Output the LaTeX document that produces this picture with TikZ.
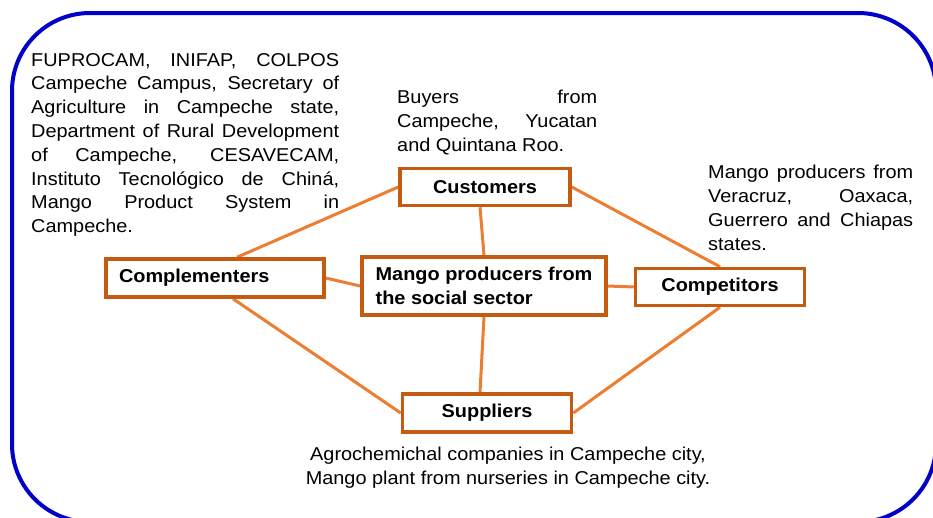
\documentclass[tikz,border=0pt]{standalone}
\usepackage{fontspec}
\setmainfont{Liberation Sans}[FakeStretch=1.07]
\usetikzlibrary{backgrounds}
\definecolor{boxline}{RGB}{197,90,17}
\definecolor{linkline}{RGB}{237,125,49}
\definecolor{frameblue}{RGB}{0,0,200}
\tikzset{
actor/.style={draw=boxline,line width=3.5pt,fill=white,inner sep=0pt,font=\bfseries\fontsize{18.6}{24.5}\selectfont},
link/.style={draw=linkline,line width=3pt},
note/.style={inner sep=0pt,align=justify,font=\fontsize{18.6}{23.8}\selectfont}
}
\begin{document}
\begin{tikzpicture}[x=1pt,y=-1pt]
\useasboundingbox(0,0)rectangle(933,517);
\clip(0,0)rectangle(933,517);
\draw[frameblue,line width=4pt,rounded corners=78pt](12,13)rectangle(936,522);
\node[actor,minimum width=170pt,minimum height=37pt](cust)at(485,187){Customers};
\node[actor,minimum width=244pt,minimum height=58pt,align=left](prod)at(484,286){Mango producers from\\the social sector};
\node[actor,minimum width=218pt,minimum height=38pt,text width=192pt,align=left](compl)at(215,278){Complementers};
\node[actor,minimum width=169pt,minimum height=37pt](comp)at(720,287){Competitors};
\node[actor,minimum width=169pt,minimum height=38pt](supp)at(487,413){Suppliers};
\node[note,text width=308pt,anchor=north west](complnote)at(31,53){\noindent FUPROCAM, INIFAP, COLPOS\linebreak
Campeche Campus, Secretary of\linebreak Agriculture in Campeche state,\linebreak
Department of Rural Development\linebreak of Campeche, CESAVECAM,\linebreak
Instituto Tecnológico de Chiná,\linebreak Mango Product System in\linebreak Campeche.};
\node[note,text width=200pt,anchor=north west](custnote)at(397,90){\noindent Buyers from\linebreak
Campeche, Yucatan\linebreak and Quintana Roo.};
\node[note,text width=205pt,anchor=north west](compnote)at(708,165){\noindent Mango producers from\linebreak
Veracruz, Oaxaca,\linebreak Guerrero and Chiapas\linebreak states.};
\node[note,align=center,anchor=north](suppnote)at(508,447){Agrochemichal companies in Campeche city,\\
Mango plant from nurseries in Campeche city.};
\begin{pgfonlayer}{background}
\draw[link](cust.west)--([xshift=22pt]compl.north);
\draw[link]([xshift=18pt]compl.south)--(supp.west);
\draw[link](cust.east)--(comp.north);
\draw[link](comp.south)--(supp.east);
\draw[link]([xshift=-5pt]cust.south)--(prod.north);
\draw[link](prod.south)--([xshift=-7pt]supp.north);
\draw[link](compl.east)--(prod.west);
\draw[link](prod.east)--(comp.west);
\end{pgfonlayer}
\end{tikzpicture}
\end{document}
